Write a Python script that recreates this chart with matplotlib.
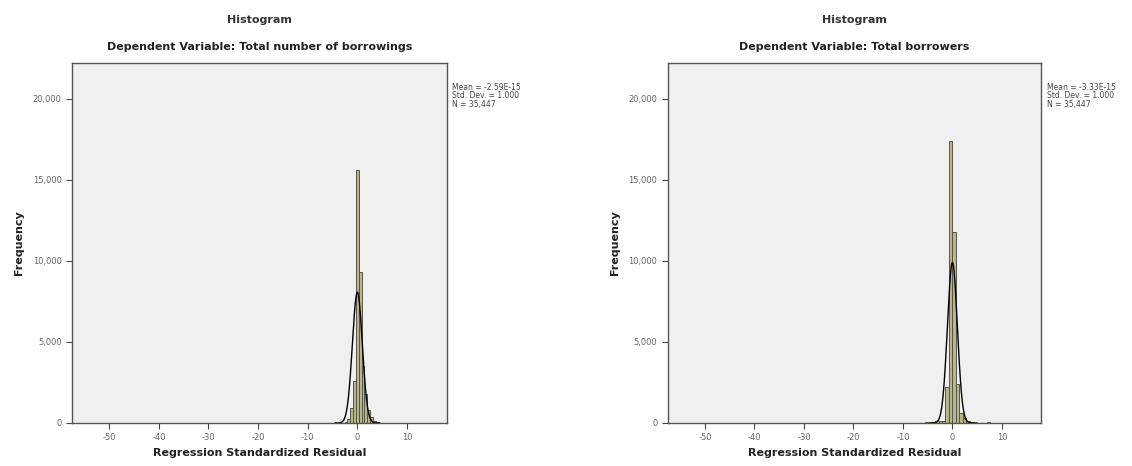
import numpy as np
import matplotlib.pyplot as plt

plt.rcParams["axes.unicode_minus"] = False

left_width = 0.57
left_centers = [-2.85, -2.28, -1.71, -1.14, -0.57, 0.0, 0.57, 1.14, 1.71, 2.28, 2.85, 3.42, 3.99]
left_counts = [30, 80, 250, 900, 2600, 15600, 9300, 3500, 1800, 800, 350, 150, 60]

right_width = 0.70
right_edges = [-5.6, -4.9, -4.2, -3.5, -2.8, -2.1, -1.4, -0.7, 0.0, 0.7, 1.4, 2.1, 2.8, 3.5, 4.2, 6.3, 7.0]
right_counts = [40, 60, 80, 100, 150, 100, 2200, 17400, 11800, 2400, 600, 300, 150, 80, 40, 30, 40]

titles = ["Dependent Variable: Total number of borrowings", "Dependent Variable: Total borrowers"]
stats = ["Mean = -2.59E-15\nStd. Dev. = 1.000\nN = 35,447",
         "Mean = -3.33E-15\nStd. Dev. = 1.000\nN = 35,447"]
n_obs = 35447
y_ticks = [0, 5000, 10000, 15000, 20000]
y_labels = ["0", "5,000", "10,000", "15,000", "20,000"]
x_ticks = [-50, -40, -30, -20, -10, 0, 10]

fig = plt.figure(figsize=(11.32, 4.66), dpi=100)
positions = [[0.0636, 0.0923, 0.331, 0.7725], [0.590, 0.0923, 0.330, 0.7725]]
series = [(left_centers, left_counts, left_width, "center"),
          (right_edges, right_counts, right_width, "edge")]

for i, (pos, (cx, cnt, w, al)) in enumerate(zip(positions, series)):
    ax = fig.add_axes(pos)
    ax.set_facecolor("#f0f0f0")
    ax.bar(cx, cnt, width=w, align=al, color="#b9b58a", edgecolor="#55554a",
           linewidth=0.7)
    xs = np.linspace(-4.5, 4.5, 300)
    ys = n_obs * w * np.exp(-xs ** 2 / 2) / np.sqrt(2 * np.pi)
    ax.plot(xs, ys, color="black", lw=1.0)
    ax.set_xlim(-57.5, 18)
    ax.set_ylim(0, 22200)
    ax.set_xticks(x_ticks)
    ax.set_yticks(y_ticks)
    ax.set_yticklabels(y_labels)
    ax.tick_params(labelsize=6, colors="#444444", length=4, width=0.8, labelcolor="#666666")
    for s in ax.spines.values():
        s.set_color("#555555")
        s.set_linewidth(1.0)
    ax.set_xlabel("Regression Standardized Residual", fontsize=8, fontweight="bold",
                  color="#222222", labelpad=4)
    ax.set_ylabel("Frequency", fontsize=8, fontweight="bold", color="#222222", labelpad=6)
    ax.text(0.5, 1.12, "Histogram", transform=ax.transAxes, ha="center", va="center",
            fontsize=8, fontweight="bold", color="#333333")
    ax.text(0.5, 1.045, titles[i], transform=ax.transAxes, ha="center", va="center",
            fontsize=8, fontweight="bold", color="#222222")
    ax.text(1.015, 0.945, stats[i], transform=ax.transAxes, ha="left", va="top",
            fontsize=5.5, color="#444444", linespacing=0.95)

plt.savefig("out.png", dpi=100)
plt.close()
